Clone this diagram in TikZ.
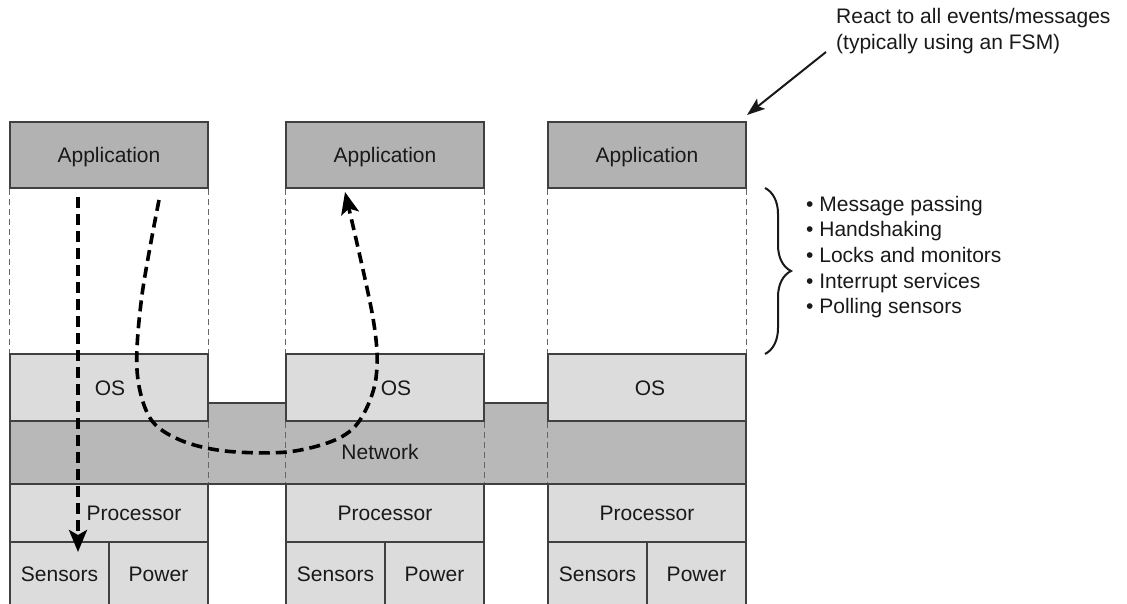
\documentclass[tikz,border=0pt]{standalone}
\usepackage{fontspec}
\setmainfont{Liberation Sans}
\usetikzlibrary{arrows.meta,decorations.pathreplacing}
\definecolor{appgray}{HTML}{B2B2B2}
\definecolor{lightgray}{HTML}{DCDCDC}
\definecolor{netgray}{HTML}{B8B8B8}
\definecolor{edge}{HTML}{404040}
\tikzset{
  every node/.style={font=\fontsize{21}{25.7}\selectfont, text=black!90},
  boxstyle/.style={draw=edge, line width=1.6pt, inner sep=0pt, text height=15pt, text depth=0pt},
  appbox/.style={boxstyle, fill=appgray, minimum width=198pt, minimum height=66pt},
  osbox/.style={boxstyle, fill=lightgray, minimum width=198pt, minimum height=67pt},
  procbox/.style={boxstyle, fill=lightgray, minimum width=198pt, minimum height=58pt},
  halfbox/.style={boxstyle, fill=lightgray, minimum width=99pt, minimum height=64pt},
  lbl/.style={inner sep=0pt, text height=15pt, text depth=0pt},
  guide/.style={draw=black!60, line width=1.2pt, dash pattern=on 6pt off 4pt},
  flow/.style={draw=black, line width=3.6pt, dash pattern=on 11pt off 6pt,
    -{Stealth[length=22pt,width=18pt,inset=5pt]}},
  pointer/.style={draw=black!90, line width=2pt, -{Stealth[length=18pt,width=13pt,inset=4pt]}}
}
\begin{document}
\begin{tikzpicture}[x=1pt,y=-1pt]
\useasboundingbox (0,0) rectangle (1127,604);
% network layer
\draw[draw=edge, line width=1.6pt, fill=netgray]
  (10,421) -- (208,421) -- (208,403) -- (286,403) -- (286,421) -- (484,421)
  -- (484,403) -- (548,403) -- (548,421) -- (746,421) -- (746,484) -- (10,484) -- cycle;
\node[lbl] (net) at (380,452) {Network};
% columns
\foreach \c/\x in {1/109,2/385,3/647}{
  \node[appbox] (app\c) at (\x,155) {Application};
  \node[osbox] (os\c) at (\x,387.5) {};
  \node[procbox] (proc\c) at (\x,513) {};
  \node[halfbox] (sens\c) at (\x-49.5,574) {Sensors};
  \node[halfbox] (pow\c) at (\x+49.5,574) {Power};
  \draw[guide] (app\c.south west) -- (os\c.north west);
  \draw[guide] (app\c.south east) -- (os\c.north east);
}
\node[lbl] (oslbl1) at (110,387.5) {OS};
\node[lbl] (oslbl2) at (396,387.5) {OS};
\node[lbl] (oslbl3) at (650,387.5) {OS};
\node[lbl] (proclbl1) at (134,513) {Processor};
\node[lbl] (proclbl2) at (385,513) {Processor};
\node[lbl] (proclbl3) at (647,513) {Processor};
% dashed guides through network bridges
\draw[guide] (os1.south east) -- (proc1.north east);
\draw[guide] (os2.south west) -- (proc2.north west);
\draw[guide] (os2.south east) -- (proc2.north east);
\draw[guide] (os3.south west) -- (proc3.north west);
% flows
\coordinate (f1s) at (78,197);
\coordinate (f1e) at (78,552);
\draw[flow] (f1s) -- (f1e);
\coordinate (f2s) at (159,200);
\coordinate (f2e) at (345,192);
\draw[flow] plot[smooth, tension=0.55] coordinates {(f2s) (142,295) (137,370) (150,418) (180,440) (225,451) (287,452) (335,440) (360,420) (376,378) (373,318) (f2e)};
% annotation top right
\node[inner sep=0pt, anchor=north west, align=left] (react) at (836,8)
  {React to all events/messages\\(typically using an FSM)};
\coordinate (rs) at (826,52);
\coordinate (re) at (747,115);
\draw[pointer] (rs) -- (re);
% brace and list
\draw[black!90, line width=2pt, decorate, decoration={brace, amplitude=26pt}] (765,188) -- (765,354);
\node[inner sep=0pt, anchor=west, align=left] (list) at (806,257)
  {\textbullet\ Message passing\\\textbullet\ Handshaking\\\textbullet\ Locks and monitors\\\textbullet\ Interrupt services\\\textbullet\ Polling sensors};
\end{tikzpicture}
\end{document}
